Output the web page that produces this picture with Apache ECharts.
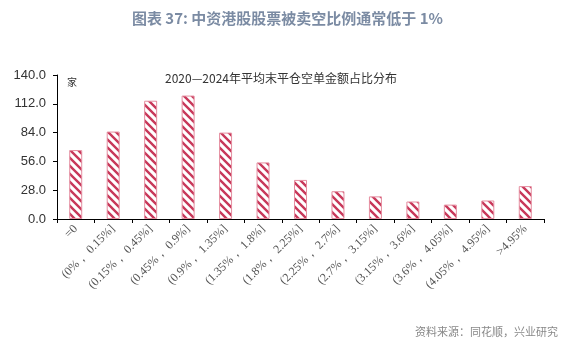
<!DOCTYPE html>
<html><head><meta charset="utf-8">
<script src="https://cdn.jsdelivr.net/npm/echarts@6/dist/echarts.min.js"></script>
<style>html,body{margin:0;padding:0;background:#fff}#c{width:575px;height:344px}</style>
</head><body><div id="c"></div>
<script>
const categories = ["=0","(0%， 0.15%]","(0.15%， 0.45%]","(0.45%， 0.9%]","(0.9%， 1.35%]","(1.35%， 1.8%]","(1.8%， 2.25%]","(2.25%， 2.7%]","(2.7%， 3.15%]","(3.15%， 3.6%]","(3.6%， 4.05%]","(4.05%， 4.95%]",">4.95%"];
const counts = [67, 85, 115, 120, 84, 55, 38, 27, 22, 17, 14, 18, 32];
const yTicks = [0, 28, 56, 84, 112, 140];

function stripe(){
  const s = 8, c = document.createElement('canvas');
  c.width = s; c.height = s;
  const g = c.getContext('2d');
  g.fillStyle = '#ffffff'; g.fillRect(0,0,s,s);
  g.strokeStyle = '#c8385a'; g.lineWidth = 2.4;
  g.beginPath();
  g.moveTo(-2,-2); g.lineTo(s+2,s+2);
  g.moveTo(-2,s-2); g.lineTo(2,s+2);
  g.moveTo(s-2,-2); g.lineTo(s+2,2);
  g.stroke();
  return c;
}

const chart = echarts.init(document.getElementById('c'));
chart.setOption({
  animation:false,
  backgroundColor:'#fff',
  title:[
    {text:'图表 37: 中资港股股票被卖空比例通常低于 1%', left:'center', top:6,
     textStyle:{fontFamily:'Noto Sans CJK SC', fontSize:15, fontWeight:'bold', color:'#7b8ba3'}},
    {text:'2020—2024年平均末平仓空单金额占比分布', left:160, top:67,
     textStyle:{fontFamily:'Noto Sans CJK SC', fontSize:12, fontWeight:'normal', color:'#333'}},
    {text:'家', left:62, top:72, textStyle:{fontFamily:'Noto Sans CJK SC', fontSize:10, fontWeight:'normal', color:'#333'}},
    {text:'资料来源：同花顺，兴业研究', left:410, top:321,
     textStyle:{fontFamily:'Noto Sans CJK SC', fontSize:11, fontWeight:'normal', color:'#888'}}
  ],
  grid:{left:57, right:31, top:75, bottom:125},
  xAxis:{type:'category', data:categories,
    axisLine:{lineStyle:{color:'#000'}},
    axisTick:{show:true, length:4, lineStyle:{color:'#000'}},
    axisLabel:{rotate:45, fontFamily:'Liberation Serif', fontSize:12, color:'#555', margin:8}},
  yAxis:{type:'value', min:0, max:140, interval:28,
    axisLine:{show:true, lineStyle:{color:'#000'}},
    axisTick:{show:true, length:4, lineStyle:{color:'#000'}},
    splitLine:{show:false},
    axisLabel:{formatter:v=>v.toFixed(1), fontFamily:'Liberation Sans', fontSize:13, color:'#333', margin:11}},
  series:[{type:'bar', data:counts, barWidth:13,
    itemStyle:{color:{image:stripe(), repeat:'repeat'}, borderColor:'#e58ea0', borderWidth:1}}]
});
</script></body></html>
